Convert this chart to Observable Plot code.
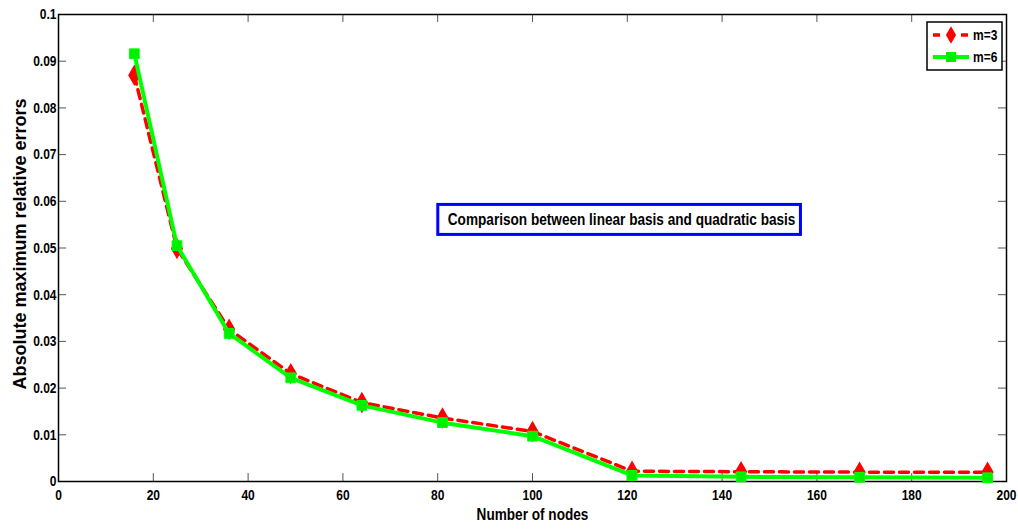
<!DOCTYPE html>
<html>
<head>
<meta charset="utf-8">
<script src="https://cdn.jsdelivr.net/npm/d3@7"></script>
<script src="https://cdn.jsdelivr.net/npm/@observablehq/plot@0.6"></script>
<style>
  html, body { margin: 0; padding: 0; background: #fff; }
  #chart { width: 1018px; height: 531px; }
  svg text { font-family: "Liberation Sans", Arial, Helvetica, sans-serif; font-weight: bold; }
</style>
</head>
<body>
<div id="chart"></div>
<script>
const nodes = [16, 25, 36, 49, 64, 81, 100, 121, 144, 169, 196];
const errM3 = [0.0870, 0.0499, 0.0326, 0.0231, 0.0169, 0.0136, 0.0107, 0.0022, 0.0021, 0.0020, 0.0020];
const errM6 = [0.0916, 0.0505, 0.0317, 0.0222, 0.0163, 0.0126, 0.0097, 0.0013, 0.0010, 0.0009, 0.0008];
const seriesNames = ["m=3", "m=6"];
const xTicks = [0, 20, 40, 60, 80, 100, 120, 140, 160, 180, 200];
const yTicks = [0, 0.01, 0.02, 0.03, 0.04, 0.05, 0.06, 0.07, 0.08, 0.09, 0.1];
const annotation = "Comparison between linear basis and quadratic basis";
const xLabel = "Number of nodes";
const yLabel = "Absolute maximum relative errors";

const d3m3 = nodes.map((n, i) => ({n, e: errM3[i]}));
const d3m6 = nodes.map((n, i) => ({n, e: errM6[i]}));

const W = 1018, H = 531;
const xTickLen = 1.7, yTickLen = 0.0017;
const squeeze = 0.8;

const plot = Plot.plot({
  width: W, height: H,
  marginLeft: 58, marginRight: 12, marginTop: 14, marginBottom: 50,
  style: {background: "#fff", fontSize: "14px", color: "#000"},
  x: {domain: [0, 200]},
  y: {domain: [0, 0.1]},
  marks: [
    Plot.axisX({ticks: xTicks, tickSize: 0, tickPadding: 8, tickFormat: d => String(d), label: null, fontSize: 15}),
    Plot.axisY({ticks: yTicks, tickSize: 0, tickPadding: 2, tickFormat: d => d === 0 ? "0" : String(+d.toFixed(2)), label: null, fontSize: 15}),
    Plot.ruleX(xTicks, {x: d => d, y1: 0, y2: yTickLen, stroke: "#555"}),
    Plot.ruleX(xTicks, {x: d => d, y1: 0.1 - yTickLen, y2: 0.1, stroke: "#555"}),
    Plot.ruleY(yTicks, {y: d => d, x1: 0, x2: xTickLen, stroke: "#555"}),
    Plot.ruleY(yTicks, {y: d => d, x1: 200 - xTickLen, x2: 200, stroke: "#555"}),
    Plot.frame({stroke: "#000", strokeWidth: 1.5}),
    Plot.line(d3m3, {x: "n", y: "e", stroke: "#ff0000", strokeWidth: 3.5, strokeDasharray: "9,6"}),
    Plot.dot(d3m3, {x: "n", y: "e", symbol: "diamond", r: 6.5, fill: "#ff0000", stroke: "none"}),
    Plot.line(d3m6, {x: "n", y: "e", stroke: "#00ff00", strokeWidth: 4}),
    Plot.dot(d3m6, {x: "n", y: "e", symbol: "square", r: 5.5, fill: "#00ee00", stroke: "#00ff00", strokeWidth: 1}),
    Plot.text([annotation], {x: 118.8, y: 0.0560, text: d => d, fontSize: 17, fill: "#000"}),
    Plot.text([xLabel], {frameAnchor: "bottom", dy: 38, text: d => d, fontSize: 17, fill: "#000"}),
    Plot.text([yLabel], {frameAnchor: "left", textAnchor: "middle", dx: -38, dy: -4, rotate: -90, text: d => d, fontSize: 18, fill: "#000"})
  ]
});
document.getElementById("chart").appendChild(plot);
const svg = d3.select(plot);

// legend (MATLAB style, inside upper right)
const lx = 927, ly = 22, lw = 75, lh = 48;
const lg = svg.append("g");
lg.append("rect").attr("x", lx).attr("y", ly).attr("width", lw).attr("height", lh)
  .attr("fill", "#fff").attr("stroke", "#000").attr("stroke-width", 1.5);
const colors = ["#ff0000", "#00ff00"];
seriesNames.forEach((name, i) => {
  const cy = ly + 13 + i * 22;
  lg.append("line").attr("x1", lx + 6).attr("x2", lx + 42).attr("y1", cy).attr("y2", cy)
    .attr("stroke", colors[i]).attr("stroke-width", i === 0 ? 3.5 : 4)
    .attr("stroke-dasharray", i === 0 ? "7,7" : null);
  if (i === 0) {
    lg.append("path").attr("d", d3.symbol(d3.symbolDiamond, 90)()).attr("transform", `translate(${lx + 24},${cy})`).attr("fill", colors[i]);
  } else {
    lg.append("rect").attr("x", lx + 19).attr("y", cy - 5).attr("width", 10).attr("height", 10).attr("fill", "#00ee00");
  }
  lg.append("text").attr("x", lx + 46).attr("y", cy).attr("dy", "0.35em").attr("text-anchor", "start")
    .attr("font-size", 15).attr("fill", "#000").text(name);
});

// squeeze horizontal texts to mimic the narrow bold font of the reference
svg.selectAll("text").each(function() {
  if (this.textContent === yLabel) return;
  const len = this.getComputedTextLength();
  if (len > 0) {
    this.setAttribute("textLength", (len * squeeze).toFixed(2));
    this.setAttribute("lengthAdjust", "spacingAndGlyphs");
  }
});

// box around the annotation
svg.selectAll("text").filter(function() { return this.textContent === annotation; }).each(function() {
  const b = this.getBBox();
  d3.select(this.parentNode).insert("rect", () => this)
    .attr("transform", this.getAttribute("transform"))
    .attr("x", b.x - 10).attr("y", b.y - 6)
    .attr("width", b.width + 15).attr("height", b.height + 11)
    .attr("fill", "#fff").attr("stroke", "#0000ff").attr("stroke-width", 3);
});
</script>
</body>
</html>
